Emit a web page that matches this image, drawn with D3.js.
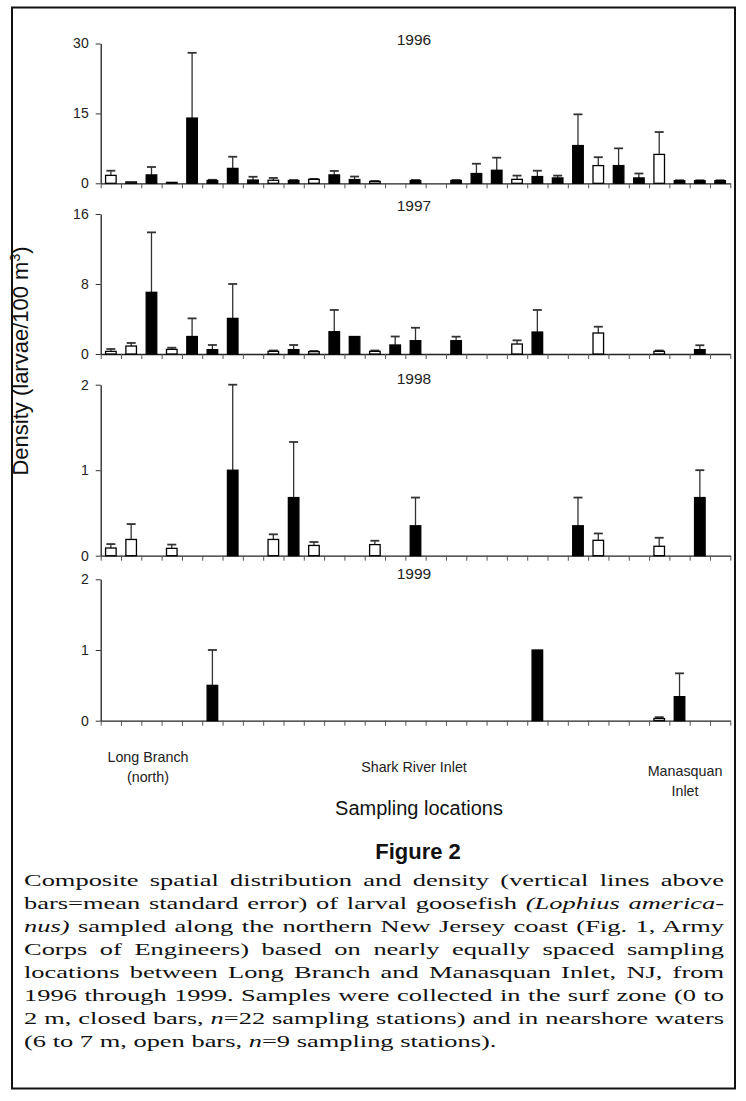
<!DOCTYPE html>
<html>
<head>
<meta charset="utf-8">
<title>Figure 2</title>
<script src="https://cdn.jsdelivr.net/npm/d3@7"></script>
<style>
  body { margin: 0; background: #fff; }
  svg text { font-family: "Liberation Sans", Arial, sans-serif; }
  svg text.cap { font-family: "Liberation Serif", "Times New Roman", serif; }
</style>
</head>
<body>
<div id="chart"></div>
<script>
// stations 0..30 from Long Branch (north) to Manasquan Inlet
const stations = d3.range(31);
// open bars = nearshore stations
const nearshore = [0, 1, 3, 8, 10, 13, 20, 24, 27];

const years = ["1996", "1997", "1998", "1999"];
const yMax = [30, 16, 2, 2];
const yTicks = [[0, 15, 30], [0, 8, 16], [0, 1, 2], [0, 1, 2]];

const val1996 = [1.7, 0.3, 1.8, 0.2, 14, 0.6, 3.2, 0.7, 0.65, 0.6, 0.85, 1.8, 0.8, 0.4, null, 0.6, null, 0.6, 2.1, 2.8, 0.85, 1.45, 1.15, 8.1, 3.8, 3.8, 1.15, 6.2, 0.55, 0.55, 0.55];
const err1996 = [2.7, null, 3.5, null, 28, 0.75, 5.7, 1.4, 1.15, 0.7, 0.95, 2.65, 1.45, 0.5, null, 0.7, null, 0.7, 4.2, 5.5, 1.65, 2.7, 1.65, 14.8, 5.6, 7.5, 2.1, 11.0, 0.65, 0.65, 0.65];

const val1997 = [0.3, 0.91, 7.05, 0.53, 2.0, 0.5, 4.07, null, 0.3, 0.5, 0.27, 2.55, 2.0, 0.3, 1.03, 1.52, null, 1.52, null, null, 1.14, 2.51, null, null, 2.4, null, null, 0.3, null, 0.5, null];
const err1997 = [0.57, 1.26, 13.9, 0.72, 4.07, 1.03, 8.0, null, 0.4, 1.03, 0.35, 5.03, null, 0.4, 2.0, 3.0, null, 1.98, null, null, 1.56, 5.03, null, null, 3.12, null, null, 0.4, null, 1.0, null];

const val1998 = [0.09, 0.19, null, 0.086, null, null, 1.0, null, 0.19, 0.68, 0.12, null, null, 0.13, null, 0.35, null, null, null, null, null, null, null, 0.35, 0.18, null, null, 0.11, null, 0.68, null];
const err1998 = [0.136, 0.37, null, 0.13, null, null, 2.0, null, 0.25, 1.33, 0.16, null, null, 0.175, null, 0.68, null, null, null, null, null, null, null, 0.68, 0.26, null, null, 0.21, null, 1.0, null];

const val1999 = [null, null, null, null, null, 0.5, null, null, null, null, null, null, null, null, null, null, null, null, null, null, null, 1.0, null, null, null, null, null, 0.03, 0.34, null, null];
const err1999 = [null, null, null, null, null, 1.0, null, null, null, null, null, null, null, null, null, null, null, null, null, null, null, null, null, null, null, null, null, 0.05, 0.67, null, null];

const values = [val1996, val1997, val1998, val1999];
const errors = [err1996, err1997, err1998, err1999];

const captionLines = [
  [["Composite spatial distribution and density (vertical lines above", false]],
  [["bars=mean standard error) of larval goosefish ", false], ["(Lophius america-", true]],
  [["nus)", true], [" sampled along the northern New Jersey coast (Fig. 1, Army", false]],
  [["Corps of Engineers) based on nearly equally spaced sampling", false]],
  [["locations between Long Branch and Manasquan Inlet, NJ, from", false]],
  [["1996 through 1999. Samples were collected in the surf zone (0 to", false]],
  [["2 m, closed bars, ", false], ["n", true], ["=22 sampling stations) and in nearshore waters", false]],
  [["(6 to 7 m, open bars, ", false], ["n", true], ["=9 sampling stations).", false]]
];

const W = 746, H = 1101;
const x0 = 100.7, x1 = 730.3;
// panel baselines and tops (pixel rows of 0 and max)
const panelBase = [183.3, 354, 555.7, 720.7];
const panelTop = [43.5, 214, 384.7, 579.3];
const titleY = [45, 211, 384, 579];

const svg = d3.select("#chart").append("svg")
  .attr("width", W).attr("height", H);

// frame
svg.append("rect")
  .attr("x", 12).attr("y", 7.5)
  .attr("width", 723).attr("height", 1081)
  .attr("fill", "none").attr("stroke", "#111").attr("stroke-width", 2);

const xBand = d3.scaleBand().domain(stations).range([x0, x1])
  .paddingInner(0.48).paddingOuter(0.24);
const xEdge = d3.scaleLinear().domain([0, 31]).range([x0, x1]);

years.forEach(function(yr, p) {
  const y = d3.scaleLinear().domain([0, yMax[p]]).range([panelBase[p], panelTop[p]]);
  const g = svg.append("g");

  // x axis with ticks between stations
  g.append("g")
    .attr("transform", "translate(0," + panelBase[p] + ")")
    .call(d3.axisBottom(xEdge).tickValues(d3.range(32)).tickFormat("").tickSize(5).tickSizeOuter(0))
    .call(function(a) {
      a.select(".domain").attr("stroke", "#222").attr("stroke-width", 1.3);
      a.selectAll(".tick line").attr("stroke", "#555");
    });

  // y axis
  g.append("g")
    .attr("transform", "translate(" + x0 + ",0)")
    .call(d3.axisLeft(y).tickValues(yTicks[p]).tickFormat(d3.format("d"))
      .tickSize(5).tickSizeOuter(0).tickPadding(7))
    .call(function(a) {
      a.select(".domain").attr("stroke", "#222").attr("stroke-width", 1.3);
      a.selectAll(".tick line").attr("stroke", "#333");
      a.selectAll(".tick text").attr("font-size", 14).attr("fill", "#222")
        .attr("font-family", "Liberation Sans, Arial, sans-serif");
    });

  const rows = stations.map(function(s) {
    return { s: s, v: values[p][s], e: errors[p][s], open: nearshore.indexOf(s) >= 0 };
  }).filter(function(d) { return d.v != null; });

  // error bars
  const eb = g.selectAll(".err").data(rows.filter(function(d) { return d.e != null; }))
    .enter().append("g").attr("class", "err")
    .attr("stroke", "#333").attr("stroke-width", 1.3);
  eb.append("line")
    .attr("x1", function(d) { return xBand(d.s) + xBand.bandwidth() / 2; })
    .attr("x2", function(d) { return xBand(d.s) + xBand.bandwidth() / 2; })
    .attr("y1", function(d) { return y(d.v); })
    .attr("y2", function(d) { return y(d.e); });
  eb.append("line")
    .attr("x1", function(d) { return xBand(d.s) + xBand.bandwidth() / 2 - 4.5; })
    .attr("x2", function(d) { return xBand(d.s) + xBand.bandwidth() / 2 + 4.5; })
    .attr("y1", function(d) { return y(d.e); })
    .attr("y2", function(d) { return y(d.e); })
    .attr("stroke-width", 1.8);

  // bars
  g.selectAll(".bar").data(rows).enter().append("rect")
    .attr("class", "bar")
    .attr("x", function(d) { return xBand(d.s); })
    .attr("width", xBand.bandwidth())
    .attr("y", function(d) { return y(d.v); })
    .attr("height", function(d) { return y(0) - y(d.v); })
    .attr("fill", function(d) { return d.open ? "#fff" : "#000"; })
    .attr("stroke", "#000").attr("stroke-width", 1.3);

  g.append("text")
    .attr("x", 414).attr("y", titleY[p])
    .attr("text-anchor", "middle").attr("font-size", 15.5).attr("fill", "#222")
    .text(yr);
});

// axis titles
svg.append("text")
  .attr("transform", "translate(28,361) rotate(-90)")
  .attr("text-anchor", "middle").attr("font-size", 22).attr("fill", "#111")
  .html("Density (larvae/100 m<tspan font-size='14' dy='-8'>3</tspan><tspan dy='8'>)</tspan>");

const locLabels = [
  { t: ["Long Branch", "(north)"], x: 148, y: 762 },
  { t: ["Shark River Inlet"], x: 414, y: 772 },
  { t: ["Manasquan", "Inlet"], x: 685, y: 776 }
];
locLabels.forEach(function(l) {
  l.t.forEach(function(line, i) {
    svg.append("text")
      .attr("x", l.x).attr("y", l.y + i * 19.5)
      .attr("text-anchor", "middle").attr("font-size", 14.3).attr("fill", "#222")
      .text(line);
  });
});

svg.append("text")
  .attr("x", 419).attr("y", 815)
  .attr("text-anchor", "middle").attr("font-size", 20).attr("fill", "#111")
  .text("Sampling locations");

svg.append("text")
  .attr("x", 418).attr("y", 859)
  .attr("text-anchor", "middle").attr("font-size", 22).attr("font-weight", "bold")
  .attr("font-family", "Open Sans, sans-serif").attr("fill", "#111")
  .text("Figure 2");

// caption: glyphs widened to the wide serif face, lines justified by word spacing
const capLeft = 24, capWidth = 700, firstLineNatural = 668;
const capTexts = captionLines.map(function(parts, i) {
  const t = svg.append("text")
    .attr("class", "cap")
    .attr("font-size", 16.5)
    .attr("fill", "#111");
  parts.forEach(function(pt) {
    t.append("tspan").attr("font-style", pt[1] ? "italic" : "normal").text(pt[0]);
  });
  return t;
});
const capScale = firstLineNatural / capTexts[0].node().getComputedTextLength();
capTexts.forEach(function(t, i) {
  t.attr("transform", "translate(" + capLeft + "," + (886 + i * 23) + ") scale(" + capScale + ",1)");
  if (i < capTexts.length - 1) {
    const w = t.node().getComputedTextLength();
    const txt = captionLines[i].map(function(pt) { return pt[0]; }).join("");
    const gaps = (txt.match(/ /g) || []).length;
    const extra = capWidth / capScale - w;
    t.style("word-spacing", (extra / gaps) + "px");
  }
});
</script>
</body>
</html>
